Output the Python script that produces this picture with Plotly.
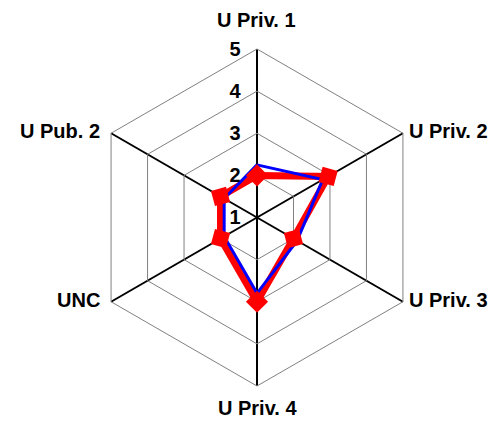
import math
import plotly.graph_objects as go

# axes of the radar, clockwise from the top
categories = ["U Priv. 1", "U Priv. 2", "U Priv. 3", "U Priv. 4", "UNC", "U Pub. 2"]
blue_vals = [2.25, 2.8, 2.1, 2.8, 1.9, 1.9]
red_vals = [2.0, 2.95, 2.0, 3.0, 2.0, 2.0]
radial_ticks = [1, 2, 3, 4, 5]

# close the loops
theta = categories + categories[:1]
blue_r = blue_vals + blue_vals[:1]
red_r = red_vals + red_vals[:1]

# markers turn with their spoke, as in the original
step = 360 / len(categories)
marker_angles = [i * step for i in range(len(categories))]

W, H = 491, 413           # page body has an 8px margin
cx, cy, R = 249, 209.5, 168.5  # polar centre / radius in px

fig = go.Figure()

fig.add_trace(go.Scatterpolar(r=red_r, theta=theta, mode="lines",
                              line=dict(color="#FF0000", width=7), hoverinfo="skip"))
fig.add_trace(go.Scatterpolar(r=blue_r, theta=theta, mode="lines",
                              line=dict(color="#0000FF", width=3)))
fig.add_trace(go.Scatterpolar(r=red_vals, theta=categories, mode="markers",
                              marker=dict(symbol="diamond", size=17, color="#FF0000",
                                          angle=marker_angles)))

# category labels sit a bit off the tips of the spokes
for i, name in enumerate(categories):
    a = math.radians(i * step)
    tx, ty = cx + R * math.sin(a), cy - R * math.cos(a)
    s = math.sin(a)
    if abs(s) < 0.1:
        xa, x = "center", tx
        y = ty - 29 if math.cos(a) > 0 else ty + 22
    else:
        xa = "left" if s > 0 else "right"
        x = tx + (4 if s > 0 else -9)
        y = ty - 2
    fig.add_annotation(text=name, x=x / W, y=1 - y / H, xref="paper", yref="paper",
                       xanchor=xa, yanchor="middle", showarrow=False,
                       font=dict(size=20, weight="bold"))

fig.update_layout(
    width=W, height=H,
    margin=dict(l=0, r=0, t=0, b=0),
    paper_bgcolor="white",
    showlegend=False,
    font=dict(family="Liberation Sans, Arial", color="black"),
    polar=dict(
        domain=dict(x=[(cx - R) / W, (cx + R) / W],
                    y=[(H - cy - R) / H, (H - cy + R) / H]),
        bgcolor="white",
        gridshape="linear",
        angularaxis=dict(
            direction="clockwise", rotation=90,
            showline=True, linecolor="#808080", linewidth=1,
            gridcolor="black", gridwidth=2,
            ticks="", showticklabels=False,
        ),
        radialaxis=dict(
            range=[1, 5], tickvals=radial_ticks, angle=90, tickangle=90,
            side="counterclockwise",
            showline=False, ticks="outside", ticklen=9, tickcolor="rgba(0,0,0,0)",
            gridcolor="#808080", gridwidth=1,
            tickfont=dict(size=20, weight="bold"),
        ),
    ),
)

fig.write_html("out.html")
